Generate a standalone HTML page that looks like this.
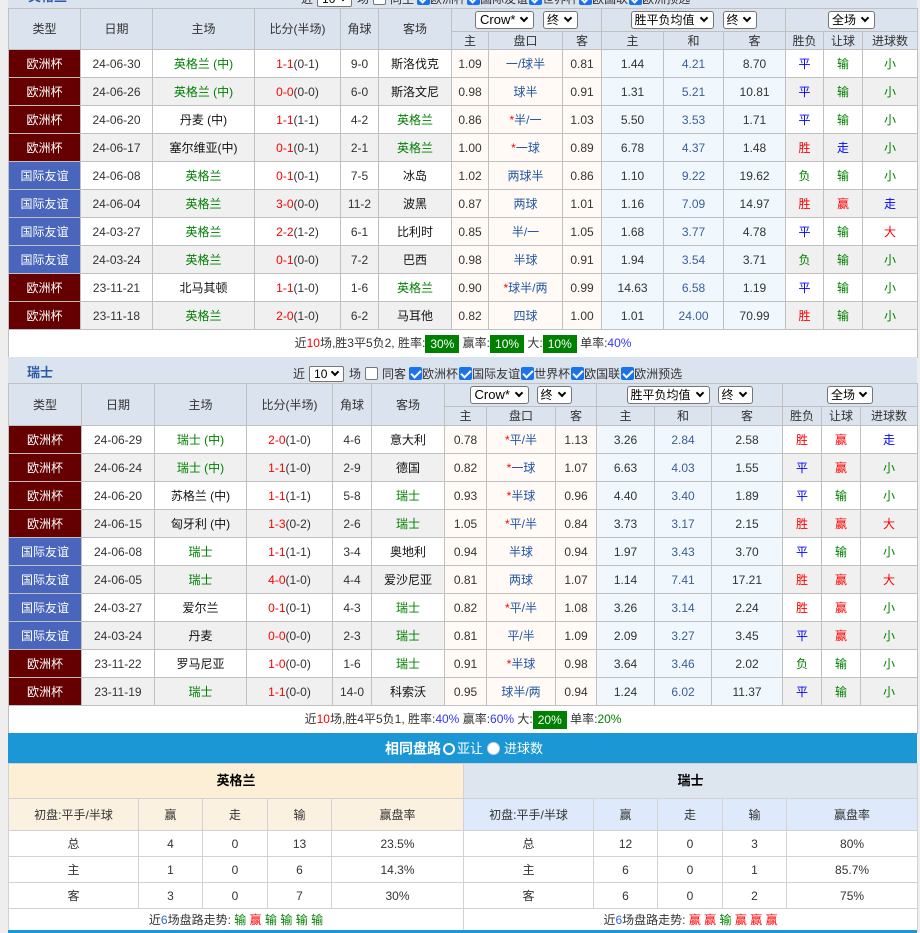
<!DOCTYPE html>
<html><head><meta charset="utf-8">
<style>
*{box-sizing:border-box}
body{margin:0;width:920px;height:933px;background:#eeeeee;position:relative;overflow:hidden;font-family:"Liberation Sans","Noto Sans CJK SC",sans-serif;font-size:12px;color:#333}
table.t{position:absolute;left:8px;border-collapse:collapse;table-layout:fixed;width:909px;background:#fff}
.t td{border:1px solid #c0c0c0;padding:0;text-align:center;white-space:nowrap;overflow:hidden;line-height:16px;color:#333}
.t tr.h1{height:23px}
.t tr.h2{height:18px}
.t tr.h2b{height:19px}
.t tr.h1 td,.t tr.h2 td,.t tr.h2b td{background:#dbe3ee;color:#333}
.t tr.d{height:28px}
.t tr.e td{background:#f0f0f0}
.t tr td.o{background:#fffaf6}
.t tr td.u{background:#f0f8fd}
.t tr td.ec{background:#660000;color:#fff}
.t tr td.fr{background:#4a66bc;color:#fff}
.t tr td.sm{background:#fff}
.t td.g,.g{color:#008000}
.t td.rd,.rd{color:#f00}
.t td.b,.b{color:#0000ff}
.t td.pk{color:#2456a4}
.t td.he{color:#3d5c9a}
.t td.tm{color:#111}
.bl{color:#3333ff}
.s{display:inline-block;position:relative;height:18px;border:1px solid #767676;border-radius:3px;background:#fff;text-align:left;padding-left:4px;line-height:16px;font-size:13px;color:#000;vertical-align:middle}
.s.c{font-size:12px;padding-left:3px}
.s i{position:absolute;right:6px;top:3px;width:6px;height:6px;border-right:2px solid #000;border-bottom:2px solid #000;transform:rotate(45deg)}
.bdg{display:inline-block;background:#008000;color:#fff;padding:0 5px;line-height:18px;vertical-align:middle}
.strip{position:absolute;left:8px;width:909px;height:26px;background:#dbe3ee}
.ctl{position:absolute;height:16px;line-height:16px;white-space:nowrap;font-size:12px;color:#333}
.ctl > *{vertical-align:middle}
.cb{display:inline-block;width:13px;height:13px;border:1px solid #767676;border-radius:2px;background:#fff;position:relative}
.ck{background:#1a73e8;border-color:#1a73e8}
.ck::after{content:"";position:absolute;left:3px;top:0px;width:4px;height:8px;border-right:2px solid #fff;border-bottom:2px solid #fff;transform:rotate(45deg)}
.ss{display:inline-block;position:relative;width:35px;height:16px;border:1px solid #767676;border-radius:2px;background:#fff;padding-left:4px;line-height:14px;font-size:12px;color:#000}
.ss i{position:absolute;right:5px;top:2px;width:6px;height:6px;border-right:2px solid #000;border-bottom:2px solid #000;transform:rotate(45deg)}
.ttl{position:absolute;font-weight:bold;font-size:13px;color:#2d5ba6;line-height:14px}
table.bt{position:absolute;top:763px;border-collapse:collapse;table-layout:fixed;background:#fff}
.bt td{border:1px solid #d2d2d2;padding:0;text-align:center;white-space:nowrap;line-height:16px;color:#333}
.bt tr.th{height:35px}
.bt tr.ch{height:32px}
.bt tr.dr{height:26px}
.bt tr.tr{height:22px}
.bt td.tn{font-weight:bold;color:#000;font-size:13px}
</style></head><body>

<div class="strip" style="top:-18px">
  <div class="ttl" style="left:20px;top:8px">英格兰</div>
</div>
<div class="ctl" style="left:301px;top:-10px">
  <span>近</span><span class="ss" style="margin-left:4px">10<i></i></span><span style="margin-left:5px">场</span><span class="cb" style="margin-left:4px"></span><span style="margin-left:4px">同主</span><span class="cb ck" style="margin-left:3px"></span><span>欧洲杯</span><span class="cb ck" style="margin-left:1px"></span><span>国际友谊</span><span class="cb ck" style="margin-left:1px"></span><span>世界杯</span><span class="cb ck" style="margin-left:1px"></span><span>欧国联</span><span class="cb ck" style="margin-left:1px"></span><span>欧洲预选</span>
</div>

<table class="t" style="top:8px">
<colgroup><col style="width:72px"><col style="width:72px"><col style="width:102px"><col style="width:86px"><col style="width:38px"><col style="width:73px"><col style="width:37px"><col style="width:74px"><col style="width:39px"><col style="width:62px"><col style="width:60px"><col style="width:62px"><col style="width:38px"><col style="width:39px"><col style="width:55px"></colgroup>
<tr class="h1"><td rowspan="2">类型</td><td rowspan="2">日期</td><td rowspan="2">主场</td><td rowspan="2">比分(半场)</td><td rowspan="2">角球</td><td rowspan="2">客场</td><td colspan="3"><span class="s" style="width:59px">Crow*<i></i></span><span class="s c" style="width:35px;margin-left:9px">终<i></i></span></td><td colspan="3"><span class="s c" style="width:83px">胜平负均值<i></i></span><span class="s c" style="width:34px;margin-left:9px">终<i></i></span></td><td colspan="3"><span class="s c" style="width:47px">全场<i></i></span></td></tr>
<tr class="h2"><td>主</td><td>盘口</td><td>客</td><td>主</td><td>和</td><td>客</td><td>胜负</td><td>让球</td><td>进球数</td></tr>

<tr class="d"><td class="ec">欧洲杯</td><td>24-06-30</td><td class="g">英格兰 (中)</td><td><span class="rd">1-1</span>(0-1)</td><td>9-0</td><td class="tm">斯洛伐克</td><td class="o">1.09</td><td class="o pk">一/球半</td><td class="o">0.81</td><td class="u">1.44</td><td class="u he">4.21</td><td class="u">8.70</td><td class="b">平</td><td class="g">输</td><td class="g">小</td></tr>
<tr class="d e"><td class="ec">欧洲杯</td><td>24-06-26</td><td class="g">英格兰 (中)</td><td><span class="rd">0-0</span>(0-0)</td><td>6-0</td><td class="tm">斯洛文尼</td><td class="o">0.98</td><td class="o pk">球半</td><td class="o">0.91</td><td class="u">1.31</td><td class="u he">5.21</td><td class="u">10.81</td><td class="b">平</td><td class="g">输</td><td class="g">小</td></tr>
<tr class="d"><td class="ec">欧洲杯</td><td>24-06-20</td><td class="tm">丹麦 (中)</td><td><span class="rd">1-1</span>(1-1)</td><td>4-2</td><td class="g">英格兰</td><td class="o">0.86</td><td class="o pk"><span class="rd">*</span>半/一</td><td class="o">1.03</td><td class="u">5.50</td><td class="u he">3.53</td><td class="u">1.71</td><td class="b">平</td><td class="g">输</td><td class="g">小</td></tr>
<tr class="d e"><td class="ec">欧洲杯</td><td>24-06-17</td><td class="tm">塞尔维亚(中)</td><td><span class="rd">0-1</span>(0-1)</td><td>2-1</td><td class="g">英格兰</td><td class="o">1.00</td><td class="o pk"><span class="rd">*</span>一球</td><td class="o">0.89</td><td class="u">6.78</td><td class="u he">4.37</td><td class="u">1.48</td><td class="rd">胜</td><td class="b">走</td><td class="g">小</td></tr>
<tr class="d"><td class="fr">国际友谊</td><td>24-06-08</td><td class="g">英格兰</td><td><span class="rd">0-1</span>(0-1)</td><td>7-5</td><td class="tm">冰岛</td><td class="o">1.02</td><td class="o pk">两球半</td><td class="o">0.86</td><td class="u">1.10</td><td class="u he">9.22</td><td class="u">19.62</td><td class="g">负</td><td class="g">输</td><td class="g">小</td></tr>
<tr class="d e"><td class="fr">国际友谊</td><td>24-06-04</td><td class="g">英格兰</td><td><span class="rd">3-0</span>(0-0)</td><td>11-2</td><td class="tm">波黑</td><td class="o">0.87</td><td class="o pk">两球</td><td class="o">1.01</td><td class="u">1.16</td><td class="u he">7.09</td><td class="u">14.97</td><td class="rd">胜</td><td class="rd">赢</td><td class="b">走</td></tr>
<tr class="d"><td class="fr">国际友谊</td><td>24-03-27</td><td class="g">英格兰</td><td><span class="rd">2-2</span>(1-2)</td><td>6-1</td><td class="tm">比利时</td><td class="o">0.85</td><td class="o pk">半/一</td><td class="o">1.05</td><td class="u">1.68</td><td class="u he">3.77</td><td class="u">4.78</td><td class="b">平</td><td class="g">输</td><td class="rd">大</td></tr>
<tr class="d e"><td class="fr">国际友谊</td><td>24-03-24</td><td class="g">英格兰</td><td><span class="rd">0-1</span>(0-0)</td><td>7-2</td><td class="tm">巴西</td><td class="o">0.98</td><td class="o pk">半球</td><td class="o">0.91</td><td class="u">1.94</td><td class="u he">3.54</td><td class="u">3.71</td><td class="g">负</td><td class="g">输</td><td class="g">小</td></tr>
<tr class="d"><td class="ec">欧洲杯</td><td>23-11-21</td><td class="tm">北马其顿</td><td><span class="rd">1-1</span>(1-0)</td><td>1-6</td><td class="g">英格兰</td><td class="o">0.90</td><td class="o pk"><span class="rd">*</span>球半/两</td><td class="o">0.99</td><td class="u">14.63</td><td class="u he">6.58</td><td class="u">1.19</td><td class="b">平</td><td class="g">输</td><td class="g">小</td></tr>
<tr class="d e"><td class="ec">欧洲杯</td><td>23-11-18</td><td class="g">英格兰</td><td><span class="rd">2-0</span>(1-0)</td><td>6-2</td><td class="tm">马耳他</td><td class="o">0.82</td><td class="o pk">四球</td><td class="o">1.00</td><td class="u">1.01</td><td class="u he">24.00</td><td class="u">70.99</td><td class="rd">胜</td><td class="g">输</td><td class="g">小</td></tr>
<tr class="d"><td colspan="15" class="sm">近<span class="rd">10</span>场,胜3平5负2, 胜率:<span class="bdg">30%</span> 赢率:<span class="bdg">10%</span> 大:<span class="bdg">10%</span> 单率:<span class="bl">40%</span></td></tr>
</table>

<div class="strip" style="top:357px">
  <div class="ttl" style="left:19px;top:9px">瑞士</div>
</div>
<div class="ctl" style="left:293px;top:365px">
  <span>近</span><span class="ss" style="margin-left:4px">10<i></i></span><span style="margin-left:5px">场</span><span class="cb" style="margin-left:4px"></span><span style="margin-left:4px">同客</span><span class="cb ck" style="margin-left:3px"></span><span>欧洲杯</span><span class="cb ck" style="margin-left:1px"></span><span>国际友谊</span><span class="cb ck" style="margin-left:1px"></span><span>世界杯</span><span class="cb ck" style="margin-left:1px"></span><span>欧国联</span><span class="cb ck" style="margin-left:1px"></span><span>欧洲预选</span>
</div>

<table class="t" style="top:383px">
<colgroup><col style="width:73px"><col style="width:73px"><col style="width:92px"><col style="width:86px"><col style="width:39px"><col style="width:73px"><col style="width:42px"><col style="width:69px"><col style="width:41px"><col style="width:58px"><col style="width:57px"><col style="width:71px"><col style="width:39px"><col style="width:39px"><col style="width:57px"></colgroup>
<tr class="h1"><td rowspan="2">类型</td><td rowspan="2">日期</td><td rowspan="2">主场</td><td rowspan="2">比分(半场)</td><td rowspan="2">角球</td><td rowspan="2">客场</td><td colspan="3"><span class="s" style="width:59px">Crow*<i></i></span><span class="s c" style="width:35px;margin-left:8px">终<i></i></span></td><td colspan="3"><span class="s c" style="width:83px">胜平负均值<i></i></span><span class="s c" style="width:35px;margin-left:8px">终<i></i></span></td><td colspan="3"><span class="s c" style="width:46px">全场<i></i></span></td></tr>
<tr class="h2b"><td>主</td><td>盘口</td><td>客</td><td>主</td><td>和</td><td>客</td><td>胜负</td><td>让球</td><td>进球数</td></tr>

<tr class="d"><td class="ec">欧洲杯</td><td>24-06-29</td><td class="g">瑞士 (中)</td><td><span class="rd">2-0</span>(1-0)</td><td>4-6</td><td class="tm">意大利</td><td class="o">0.78</td><td class="o pk"><span class="rd">*</span>平/半</td><td class="o">1.13</td><td class="u">3.26</td><td class="u he">2.84</td><td class="u">2.58</td><td class="rd">胜</td><td class="rd">赢</td><td class="b">走</td></tr>
<tr class="d e"><td class="ec">欧洲杯</td><td>24-06-24</td><td class="g">瑞士 (中)</td><td><span class="rd">1-1</span>(1-0)</td><td>2-9</td><td class="tm">德国</td><td class="o">0.82</td><td class="o pk"><span class="rd">*</span>一球</td><td class="o">1.07</td><td class="u">6.63</td><td class="u he">4.03</td><td class="u">1.55</td><td class="b">平</td><td class="rd">赢</td><td class="g">小</td></tr>
<tr class="d"><td class="ec">欧洲杯</td><td>24-06-20</td><td class="tm">苏格兰 (中)</td><td><span class="rd">1-1</span>(1-1)</td><td>5-8</td><td class="g">瑞士</td><td class="o">0.93</td><td class="o pk"><span class="rd">*</span>半球</td><td class="o">0.96</td><td class="u">4.40</td><td class="u he">3.40</td><td class="u">1.89</td><td class="b">平</td><td class="g">输</td><td class="g">小</td></tr>
<tr class="d e"><td class="ec">欧洲杯</td><td>24-06-15</td><td class="tm">匈牙利 (中)</td><td><span class="rd">1-3</span>(0-2)</td><td>2-6</td><td class="g">瑞士</td><td class="o">1.05</td><td class="o pk"><span class="rd">*</span>平/半</td><td class="o">0.84</td><td class="u">3.73</td><td class="u he">3.17</td><td class="u">2.15</td><td class="rd">胜</td><td class="rd">赢</td><td class="rd">大</td></tr>
<tr class="d"><td class="fr">国际友谊</td><td>24-06-08</td><td class="g">瑞士</td><td><span class="rd">1-1</span>(1-1)</td><td>3-4</td><td class="tm">奥地利</td><td class="o">0.94</td><td class="o pk">半球</td><td class="o">0.94</td><td class="u">1.97</td><td class="u he">3.43</td><td class="u">3.70</td><td class="b">平</td><td class="g">输</td><td class="g">小</td></tr>
<tr class="d e"><td class="fr">国际友谊</td><td>24-06-05</td><td class="g">瑞士</td><td><span class="rd">4-0</span>(1-0)</td><td>4-4</td><td class="tm">爱沙尼亚</td><td class="o">0.81</td><td class="o pk">两球</td><td class="o">1.07</td><td class="u">1.14</td><td class="u he">7.41</td><td class="u">17.21</td><td class="rd">胜</td><td class="rd">赢</td><td class="rd">大</td></tr>
<tr class="d"><td class="fr">国际友谊</td><td>24-03-27</td><td class="tm">爱尔兰</td><td><span class="rd">0-1</span>(0-1)</td><td>4-3</td><td class="g">瑞士</td><td class="o">0.82</td><td class="o pk"><span class="rd">*</span>平/半</td><td class="o">1.08</td><td class="u">3.26</td><td class="u he">3.14</td><td class="u">2.24</td><td class="rd">胜</td><td class="rd">赢</td><td class="g">小</td></tr>
<tr class="d e"><td class="fr">国际友谊</td><td>24-03-24</td><td class="tm">丹麦</td><td><span class="rd">0-0</span>(0-0)</td><td>2-3</td><td class="g">瑞士</td><td class="o">0.81</td><td class="o pk">平/半</td><td class="o">1.09</td><td class="u">2.09</td><td class="u he">3.27</td><td class="u">3.45</td><td class="b">平</td><td class="rd">赢</td><td class="g">小</td></tr>
<tr class="d"><td class="ec">欧洲杯</td><td>23-11-22</td><td class="tm">罗马尼亚</td><td><span class="rd">1-0</span>(0-0)</td><td>1-6</td><td class="g">瑞士</td><td class="o">0.91</td><td class="o pk"><span class="rd">*</span>半球</td><td class="o">0.98</td><td class="u">3.64</td><td class="u he">3.46</td><td class="u">2.02</td><td class="g">负</td><td class="g">输</td><td class="g">小</td></tr>
<tr class="d e"><td class="ec">欧洲杯</td><td>23-11-19</td><td class="g">瑞士</td><td><span class="rd">1-1</span>(0-0)</td><td>14-0</td><td class="tm">科索沃</td><td class="o">0.95</td><td class="o pk">球半/两</td><td class="o">0.94</td><td class="u">1.24</td><td class="u he">6.02</td><td class="u">11.37</td><td class="b">平</td><td class="g">输</td><td class="g">小</td></tr>
<tr class="d"><td colspan="15" class="sm">近<span class="rd">10</span>场,胜4平5负1, 胜率:<span class="bl">40%</span> 赢率:<span class="bl">60%</span> 大:<span class="bdg">20%</span> 单率:<span class="g">20%</span></td></tr>
</table>

<div style="position:absolute;left:8px;top:733px;width:909px;height:30px;background:#1b97d5"></div>
<div style="position:absolute;left:385px;top:740px;height:16px;line-height:16px;white-space:nowrap;color:#fff;font-size:13px">
  <span style="font-weight:bold;font-size:14px;vertical-align:middle">相同盘路</span><span style="display:inline-block;width:12px;height:12px;border-radius:50%;border:2px solid #fff;background:#1b97d5;vertical-align:middle;margin-left:2px"></span><span style="vertical-align:middle;margin-left:2px">亚让</span><span style="display:inline-block;width:13px;height:13px;border-radius:50%;border:1px solid #ccc;background:#fff;vertical-align:middle;margin-left:4px"></span><span style="vertical-align:middle;margin-left:4px">进球数</span>
</div>

<table class="bt" style="left:8px;width:455px">
<colgroup><col style="width:130px"><col style="width:64px"><col style="width:65px"><col style="width:64px"><col style="width:132px"></colgroup>
<tr class="th"><td colspan="5" class="tn" style="background:#fcefd6">英格兰</td></tr>
<tr class="ch" style="background:#fbf1e1"><td>初盘:平手/半球</td><td>赢</td><td>走</td><td>输</td><td>赢盘率</td></tr>
<tr class="dr"><td>总</td><td>4</td><td>0</td><td>13</td><td>23.5%</td></tr>
<tr class="dr"><td>主</td><td>1</td><td>0</td><td>6</td><td>14.3%</td></tr>
<tr class="dr"><td>客</td><td>3</td><td>0</td><td>7</td><td>30%</td></tr>
<tr class="tr"><td colspan="5">近<span style="color:#3366cc">6</span>场盘路走势: <span class="g">输</span> <span class="rd">赢</span> <span class="g">输</span> <span class="g">输</span> <span class="g">输</span> <span class="g">输</span></td></tr>
</table>

<table class="bt" style="left:463px;width:454px">
<colgroup><col style="width:130px"><col style="width:64px"><col style="width:65px"><col style="width:64px"><col style="width:131px"></colgroup>
<tr class="th"><td colspan="5" class="tn" style="background:#dde6ee">瑞士</td></tr>
<tr class="ch" style="background:#deeafb"><td>初盘:平手/半球</td><td>赢</td><td>走</td><td>输</td><td>赢盘率</td></tr>
<tr class="dr"><td>总</td><td>12</td><td>0</td><td>3</td><td>80%</td></tr>
<tr class="dr"><td>主</td><td>6</td><td>0</td><td>1</td><td>85.7%</td></tr>
<tr class="dr"><td>客</td><td>6</td><td>0</td><td>2</td><td>75%</td></tr>
<tr class="tr"><td colspan="5">近<span style="color:#3366cc">6</span>场盘路走势: <span class="rd">赢</span> <span class="rd">赢</span> <span class="g">输</span> <span class="rd">赢</span> <span class="rd">赢</span> <span class="rd">赢</span></td></tr>
</table>

<div style="position:absolute;left:8px;top:930px;width:909px;height:3px;background:#1b97d5"></div>
</body></html>
